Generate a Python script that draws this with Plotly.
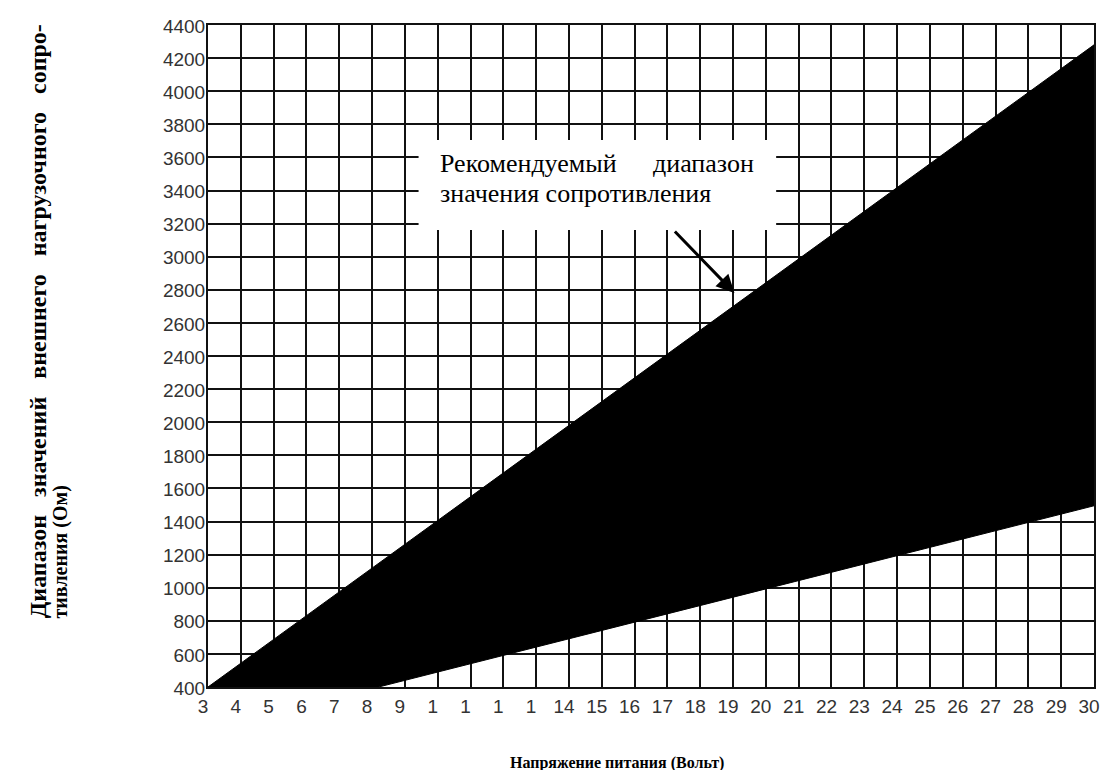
import plotly.graph_objects as go

# ---- data ----
voltage_ticks = list(range(3, 31))
voltage_tick_text = ["3", "4", "5", "6", "7", "8", "9", "1", "1", "1", "1",
                     "14", "15", "16", "17", "18", "19", "20", "21", "22", "23",
                     "24", "25", "26", "27", "28", "29", "30"]
resistance_ticks = list(range(400, 4401, 200))

upper_volts = [3, 30]
upper_ohms = [400, 4280]          # maximum load resistance line
lower_volts = [8.2, 30]
lower_ohms = [400, 1495]          # minimum load resistance line
base_volts = [3]
base_ohms = [400]

poly_x = upper_volts + lower_volts[::-1] + base_volts
poly_y = upper_ohms + lower_ohms[::-1] + base_ohms

# page body has an 8px margin; figure is sized to fit the 1116x778 window
OFF = 8
W, H = 1116 - 2 * OFF, 778 - 2 * OFF
PL, PR, PT, PB = 208, 1100, 25, 687          # plot area in window pixels
L, R, T, B = PL - OFF, W - (PR - OFF), PT - OFF, H - (PB - OFF)
pw, ph = PR - PL, PB - PT


def px(x):
    return (x - PL) / pw


def py(y):
    return (PB - y) / ph


fig = go.Figure()
fig.add_trace(go.Scatter(
    x=poly_x, y=poly_y, mode="lines", fill="toself",
    fillcolor="black", line=dict(color="black", width=1),
    hoverinfo="skip", showlegend=False))

axis_common = dict(
    showgrid=True, gridcolor="#111111", gridwidth=1.8,
    showline=True, linecolor="#111111", linewidth=2, mirror=True,
    zeroline=False, ticks="",
    tickfont=dict(family="Arial, Liberation Sans", size=19, color="#333333"),
)

fig.update_xaxes(range=[3, 30], tickmode="array", tickvals=voltage_ticks,
                 ticktext=voltage_tick_text, ticklabelshift=-5, ticklabelstandoff=1,
                 **axis_common)
fig.update_yaxes(range=[400, 4400], tickmode="array", tickvals=resistance_ticks,
                 ticktext=[str(v) for v in resistance_ticks], ticklabelstandoff=-3,
                 ticklabelshift=1, **axis_common)

# white label box
fig.add_shape(type="rect", xref="paper", yref="paper",
              x0=px(420), x1=px(780), y0=py(230), y1=py(140),
              fillcolor="white", line=dict(width=0), layer="above")

serif = "Times New Roman, Liberation Serif, serif"
fig.add_annotation(xref="paper", yref="paper", x=px(440), y=py(163),
                   xanchor="left", yanchor="middle", showarrow=False,
                   text="Рекомендуемый", font=dict(family=serif, size=26, color="black"))
fig.add_annotation(xref="paper", yref="paper", x=px(760), y=py(163),
                   xanchor="right", yanchor="middle", showarrow=False,
                   text="диапазон", font=dict(family=serif, size=26, color="black"))
fig.add_annotation(xref="paper", yref="paper", x=px(440), y=py(193),
                   xanchor="left", yanchor="middle", showarrow=False,
                   text="значения сопротивления", font=dict(family=serif, size=26, color="black"))

# arrow
fig.add_annotation(xref="paper", yref="paper", x=px(738), y=py(293),
                   ax=-61, ay=-63, axref="pixel", ayref="pixel",
                   showarrow=True, arrowhead=2, arrowsize=1.2, arrowwidth=3,
                   arrowcolor="black", text="")

# axis titles
sp = "\u00a0" * 3
fig.add_annotation(xref="paper", yref="paper", x=px(37), y=py(620),
                   xanchor="center", yanchor="bottom", textangle=-90, showarrow=False,
                   text=f"<b>Диапазон{sp}значений{sp}внешнего{sp}нагрузочного{sp}сопро-</b>",
                   font=dict(family=serif, size=24, color="black"))
fig.add_annotation(xref="paper", yref="paper", x=px(60), y=py(620),
                   xanchor="center", yanchor="bottom", textangle=-90, showarrow=False,
                   text="<b>тивления (Ом)</b>",
                   font=dict(family=serif, size=20, color="black"))
fig.add_annotation(xref="paper", yref="paper", x=px(620), y=py(763),
                   xanchor="center", yanchor="middle", showarrow=False,
                   text="<b>Напряжение питания (Вольт)</b>",
                   font=dict(family=serif, size=16, color="black"))

fig.update_layout(width=W, height=H, margin=dict(l=L, r=R, t=T, b=B),
                  paper_bgcolor="white", plot_bgcolor="white", showlegend=False)

fig.write_html("out.html")
